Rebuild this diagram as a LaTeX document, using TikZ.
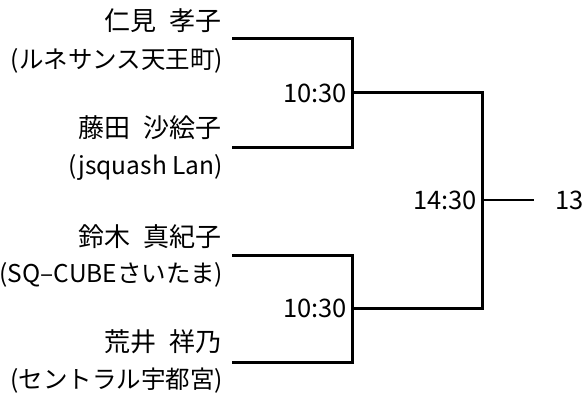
\documentclass[tikz,border=0pt]{standalone}
\usepackage{fontspec}
\setmainfont{Noto Sans CJK JP}
\begin{document}
\begin{tikzpicture}[x=1pt,y=-1pt,
  namelbl/.style={anchor=east, font=\fontsize{26}{26}\selectfont, inner sep=0pt},
  clublbl/.style={anchor=east, font=\fontsize{24.5}{24.5}\selectfont, inner sep=0pt},
  timelbl/.style={anchor=east, font=\fontsize{25.5}{25.5}\selectfont, inner sep=0pt},
  bracket/.style={line width=3pt},
  thinline/.style={line width=2.2pt}]
\useasboundingbox (0,0) rectangle (584,396);
% player lines
\coordinate (p1) at (232,39);  \coordinate (q1) at (352,39);
\coordinate (p2) at (232,147); \coordinate (q2) at (352,147);
\coordinate (p3) at (232,255); \coordinate (q3) at (352,255);
\coordinate (p4) at (232,362); \coordinate (q4) at (352,362);
\coordinate (m1) at (352,93);  \coordinate (f1) at (482,93);
\coordinate (m2) at (352,308); \coordinate (f2) at (482,308);
\coordinate (w) at (482,200);  \coordinate (we) at (534,200);
\draw[bracket] (p1) -- (q1) -- (q2) -- (p2);
\draw[bracket] (p3) -- (q3) -- (q4) -- (p4);
\draw[bracket] (m1) -- (f1) -- (f2) -- (m2);
\draw[thinline] (w) -- (we);
% names
\node[namelbl] (n1) at (222,21) {仁見\hspace{0.5em}孝子};
\node[clublbl] (c1) at (223,61) {(ルネサンス天王町)};
\node[namelbl] (n2) at (222,128) {藤田\hspace{0.5em}沙絵子};
\node[clublbl] (c2) at (223,167) {(jsquash Lan)};
\node[namelbl] (n3) at (222,237) {鈴木\hspace{0.5em}真紀子};
\node[clublbl] (c3) at (223,275) {(SQ–CUBEさいたま)};
\node[namelbl] (n4) at (222,342) {荒井\hspace{0.5em}祥乃};
\node[clublbl] (c4) at (223,381) {(セントラル宇都宮)};
% times
\node[timelbl] (t1) at (347,93) {10:30};
\node[timelbl] (t2) at (347,308) {10:30};
\node[timelbl] (t3) at (477,200) {14:30};
\node[timelbl, anchor=west] (r) at (555,200) {13};
\end{tikzpicture}
\end{document}
